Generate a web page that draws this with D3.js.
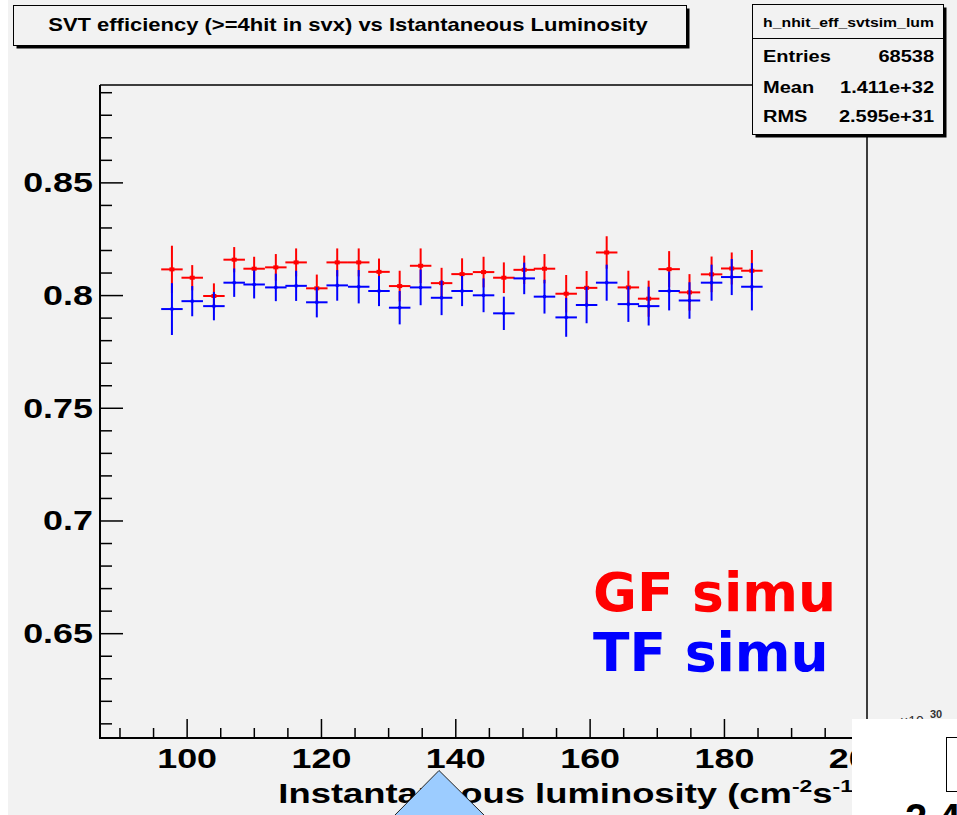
<!DOCTYPE html>
<html>
<head>
<meta charset="utf-8">
<script src="https://cdn.jsdelivr.net/npm/d3@7"></script>
<style>
html,body{margin:0;padding:0;background:#fff;}
svg{display:block;}
</style>
</head>
<body>
<script>
// ---------- data ----------
const lumi = [97.81, 100.83, 104.06, 107.08, 110.05, 113.28, 116.30, 119.38, 122.42, 125.62,
              128.64, 131.72, 134.84, 137.96, 141.01, 144.21, 147.23, 150.26, 153.28, 156.51,
              159.55, 162.54, 165.77, 168.79, 171.84, 174.87, 178.16, 181.16, 184.16];
const gfEff = [0.8114, 0.8077, 0.7996, 0.8157, 0.8117, 0.8123, 0.8145, 0.8030, 0.8145, 0.8145,
               0.8103, 0.8040, 0.8130, 0.8053, 0.8093, 0.8102, 0.8077, 0.8112, 0.8117, 0.8006,
               0.8032, 0.8189, 0.8034, 0.7984, 0.8115, 0.8012, 0.8092, 0.8118, 0.8108];
const gfErr = [0.0105, 0.0056, 0.0056, 0.0056, 0.0053, 0.0059, 0.0062, 0.0061, 0.0062, 0.0062,
               0.0059, 0.0068, 0.0077, 0.0068, 0.0070, 0.0068, 0.0068, 0.0063, 0.0065, 0.0083,
               0.0075, 0.0072, 0.0074, 0.0080, 0.0080, 0.0081, 0.0079, 0.0071, 0.0092];
const tfEff = [0.7938, 0.7973, 0.7951, 0.8055, 0.8047, 0.8034, 0.8041, 0.7968, 0.8043, 0.8037,
               0.8018, 0.7944, 0.8034, 0.7988, 0.8018, 0.7999, 0.7919, 0.8074, 0.7993, 0.7901,
               0.7956, 0.8055, 0.7960, 0.7951, 0.8018, 0.7976, 0.8055, 0.8080, 0.8037];
const tfErr = [0.0115, 0.0067, 0.0063, 0.0063, 0.0062, 0.0061, 0.0067, 0.0067, 0.0068, 0.0074,
               0.0067, 0.0074, 0.0079, 0.0077, 0.0067, 0.0075, 0.0074, 0.0070, 0.0075, 0.0086,
               0.0081, 0.0080, 0.0079, 0.0086, 0.0086, 0.0081, 0.0080, 0.0080, 0.0105];
const binHalfWidth = 1.6;

const xMajorTicks = [100, 120, 140, 160, 180, 200];
const xMinorTicks = [90, 95, 105, 110, 115, 125, 130, 135, 145, 150, 155, 165, 170, 175, 185, 190, 195];
const yMajorTicks = [0.65, 0.7, 0.75, 0.8, 0.85];
const yMajorLabels = ["0.65", "0.7", "0.75", "0.8", "0.85"];
const yMinorTicks = [0.61, 0.62, 0.63, 0.64, 0.66, 0.67, 0.68, 0.69, 0.71, 0.72, 0.73, 0.74,
                     0.76, 0.77, 0.78, 0.79, 0.81, 0.82, 0.83, 0.84, 0.86, 0.87, 0.88, 0.89];

const titleText = "SVT efficiency (>=4hit in svx) vs Istantaneous Luminosity";
const statsName = "h_nhit_eff_svtsim_lum";
const statsLabels = ["Entries", "Mean", "RMS"];
const statsValues = ["68538", "1.411e+32", "2.595e+31"];
const legendLabels = ["GF simu", "TF simu"];
const seriesColors = ["#ff0000", "#0000ff"];

// ---------- layout ----------
const W = 957, H = 815;
const frame = {l: 100, r: 867, t: 85, b: 738};
const bg = "#f2f2f2";
const FONT = "'Liberation Sans', Arial, Helvetica, sans-serif";

const svg = d3.select("body").append("svg").attr("width", W).attr("height", H);
svg.append("rect").attr("width", W).attr("height", H).attr("fill", bg);
svg.append("rect").attr("width", 8).attr("height", H).attr("fill", "#fff");

const x = d3.scaleLinear().domain([87.1, 201.3]).range([frame.l, frame.r]);
const y = d3.scaleLinear().domain([0.6035, 0.8932]).range([frame.b, frame.t]);

function stretchTo(sel, width) {
  const w = sel.node().getBBox().width;
  return w > 0 ? width / w : 1;
}

// ---------- title box ----------
svg.append("rect").attr("x", 16.5).attr("y", 8.5).attr("width", 673).attr("height", 40).attr("fill", "#000");
svg.append("rect").attr("x", 13.5).attr("y", 5.5).attr("width", 673).attr("height", 40)
   .attr("fill", bg).attr("stroke", "#000").attr("stroke-width", 1);
{
  const t = svg.append("text").text(titleText).attr("font-family", FONT).attr("font-weight", "bold")
     .attr("font-size", 18).attr("text-anchor", "middle").attr("fill", "#000");
  const s = stretchTo(t, 600);
  t.attr("transform", `translate(348,31) scale(${s},1)`);
}

// ---------- frame ----------
const g = svg.append("g");

const yAxisMajor = d3.axisLeft(y).tickValues(yMajorTicks).tickSize(-23).tickPadding(7)
   .tickFormat((d, i) => yMajorLabels[i]);
const yAxisMinor = d3.axisLeft(y).tickValues(yMinorTicks).tickSize(-12).tickFormat("");
const xAxisMajor = d3.axisBottom(x).tickValues(xMajorTicks).tickSize(-19).tickPadding(10)
   .tickFormat(d3.format("d"));
const xAxisMinor = d3.axisBottom(x).tickValues(xMinorTicks).tickSize(-10).tickFormat("");

function styleAxis(ax) {
  ax.select(".domain").remove();
  ax.selectAll("line").attr("stroke", "#000").attr("stroke-width", 1.5);
}
const gy1 = g.append("g").attr("transform", `translate(${frame.l},0)`).call(yAxisMinor); styleAxis(gy1);
const gy2 = g.append("g").attr("transform", `translate(${frame.l},0)`).call(yAxisMajor); styleAxis(gy2);
const gx1 = g.append("g").attr("transform", `translate(0,${frame.b})`).call(xAxisMinor); styleAxis(gx1);
const gx2 = g.append("g").attr("transform", `translate(0,${frame.b})`).call(xAxisMajor); styleAxis(gx2);

const tickSx = 1.33;
gy2.selectAll("text").attr("font-family", FONT).attr("font-weight", "bold").attr("font-size", 27)
   .attr("fill", "#000").attr("x", 0).attr("dy", null).attr("y", 9.5)
   .attr("transform", `translate(-7,0) scale(${tickSx},1)`);
gx2.selectAll("text").attr("font-family", FONT).attr("font-weight", "bold").attr("font-size", 27)
   .attr("fill", "#000").attr("dy", null).attr("y", 0).attr("x", 0)
   .attr("transform", `translate(0,30) scale(${tickSx},1)`);

g.append("line").attr("x1", frame.l).attr("x2", frame.r).attr("y1", frame.t).attr("y2", frame.t)
  .attr("stroke", "#000").attr("stroke-width", 1.5);
g.append("line").attr("x1", frame.r).attr("x2", frame.r).attr("y1", frame.t).attr("y2", frame.b)
  .attr("stroke", "#000").attr("stroke-width", 1.5);
g.append("line").attr("x1", frame.l).attr("x2", frame.l).attr("y1", frame.t).attr("y2", frame.b + 1)
  .attr("stroke", "#000").attr("stroke-width", 2);
g.append("line").attr("x1", frame.l - 1).attr("x2", frame.r).attr("y1", frame.b).attr("y2", frame.b)
  .attr("stroke", "#000").attr("stroke-width", 2);

// x-axis title
{
  const t = svg.append("text").attr("font-family", FONT).attr("font-weight", "bold")
     .attr("font-size", 27).attr("text-anchor", "end").attr("fill", "#000");
  t.append("tspan").text("Instantaneous luminosity (cm");
  t.append("tspan").text("-2").attr("font-size", 17).attr("dy", -11);
  t.append("tspan").text("s").attr("dy", 11);
  t.append("tspan").text("-1").attr("font-size", 17).attr("dy", -11);
  t.append("tspan").text(")").attr("dy", 11);
  const s = stretchTo(t, 587);
  t.attr("transform", `translate(865,803) scale(${s},1)`);
}

// ---------- data points ----------
const series = [
  {eff: gfEff, err: gfErr, color: seriesColors[0], mw: 5, mh: 4},
  {eff: tfEff, err: tfErr, color: seriesColors[1], mw: 3, mh: 3}
];
series.forEach(sr => {
  const pts = lumi.map((l, i) => ({l, v: sr.eff[i], e: sr.err[i]}));
  const gs = g.append("g");
  gs.selectAll("line.h").data(pts).join("line").attr("class", "h")
    .attr("x1", d => x(d.l - binHalfWidth)).attr("x2", d => x(d.l + binHalfWidth))
    .attr("y1", d => y(d.v)).attr("y2", d => y(d.v))
    .attr("stroke", sr.color).attr("stroke-width", 2);
  gs.selectAll("line.v").data(pts).join("line").attr("class", "v")
    .attr("x1", d => x(d.l)).attr("x2", d => x(d.l))
    .attr("y1", d => y(d.v - d.e)).attr("y2", d => y(d.v + d.e))
    .attr("stroke", sr.color).attr("stroke-width", 2);
  gs.selectAll("rect").data(pts).join("rect")
    .attr("x", d => x(d.l) - sr.mw / 2).attr("y", d => y(d.v) - sr.mh / 2)
    .attr("width", sr.mw).attr("height", sr.mh).attr("fill", sr.color);
});

// ---------- legend text ----------
const legendY = [611, 671];
legendLabels.forEach((lab, i) => {
  svg.append("text").text(lab).attr("x", 593).attr("y", legendY[i])
    .attr("font-family", "'DejaVu Sans', Verdana, sans-serif").attr("font-weight", "bold")
    .attr("font-size", 53.5).attr("fill", seriesColors[i]);
});

// ---------- stats box ----------
svg.append("rect").attr("x", 755.5).attr("y", 7.5).attr("width", 191).attr("height", 130).attr("fill", "#000");
svg.append("rect").attr("x", 752.5).attr("y", 4.5).attr("width", 191).attr("height", 130)
   .attr("fill", bg).attr("stroke", "#000").attr("stroke-width", 1);
svg.append("line").attr("x1", 752.5).attr("x2", 943.5).attr("y1", 38.5).attr("y2", 38.5)
   .attr("stroke", "#000").attr("stroke-width", 1);
{
  const t = svg.append("text").text(statsName).attr("font-family", FONT).attr("font-weight", "bold")
     .attr("font-size", 13).attr("text-anchor", "middle").attr("fill", "#000");
  const s = stretchTo(t, 171);
  t.attr("transform", `translate(848.5,26.5) scale(${s},1)`);
}
const statsY = [62, 92.5, 122];
statsLabels.forEach((lab, i) => {
  svg.append("text").text(lab).attr("font-family", FONT).attr("font-weight", "bold")
    .attr("font-size", 16).attr("fill", "#000")
    .attr("transform", `translate(763,${statsY[i]}) scale(1.25,1)`);
  svg.append("text").text(statsValues[i]).attr("font-family", FONT).attr("font-weight", "bold")
    .attr("font-size", 16).attr("fill", "#000").attr("text-anchor", "end")
    .attr("transform", `translate(934,${statsY[i]}) scale(1.25,1)`);
});

// ---------- overlapping window fragment (bottom right) ----------
svg.append("text").text("×10").attr("x", 900).attr("y", 726).attr("font-family", FONT)
   .attr("font-size", 14).attr("fill", "#333");
svg.append("text").text("30").attr("x", 930).attr("y", 718).attr("font-family", FONT)
   .attr("font-size", 11).attr("font-weight", "bold").attr("fill", "#333");
svg.append("rect").attr("x", 852).attr("y", 719).attr("width", W - 852).attr("height", H - 719).attr("fill", "#fff");
svg.append("rect").attr("x", 946.5).attr("y", 737.5).attr("width", 30).attr("height", 54)
   .attr("fill", "none").attr("stroke", "#000").attr("stroke-width", 1);
svg.append("text").text("2.4").attr("x", 905).attr("y", 832).attr("font-family", FONT)
   .attr("font-weight", "bold").attr("font-size", 40).attr("fill", "#000");

// ---------- pointer triangle ----------
svg.append("polygon").attr("points", "394,816 439,770.5 485,816")
   .attr("fill", "#9cccff").attr("stroke", "#222").attr("stroke-width", 1);
</script>
</body>
</html>
